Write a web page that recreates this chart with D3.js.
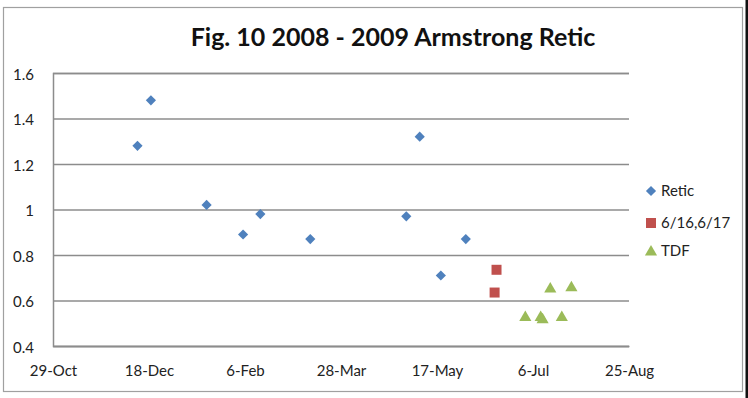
<!DOCTYPE html>
<html><head><meta charset="utf-8">
<script src="https://cdn.jsdelivr.net/npm/d3@7"></script>
<style>
html,body{margin:0;padding:0;background:#fff;}
svg{display:block;font-family:Lato,"Open Sans",sans-serif;}
</style></head>
<body><svg id="c" width="748" height="398"></svg>
<script>
const titleText = "Fig. 10 2008 - 2009 Armstrong Retic";
const reticDates = ["2008-12-12","2008-12-19","2009-01-17","2009-02-05","2009-02-14","2009-03-12","2009-05-01","2009-05-08","2009-05-19","2009-06-01"];
const reticValues = [1.28,1.48,1.02,0.89,0.98,0.87,0.97,1.32,0.71,0.87];
const redDates = ["2009-06-16","2009-06-17"];
const redValues = [0.635,0.735];
const tdfDates = ["2009-07-02","2009-07-10","2009-07-11","2009-07-15","2009-07-21","2009-07-26"];
const tdfValues = [0.53,0.53,0.52,0.655,0.53,0.66];
const xTickDates = ["2008-10-29","2008-12-18","2009-02-06","2009-03-28","2009-05-17","2009-07-06","2009-08-25"];
const yTicks = [0.4,0.6,0.8,1.0,1.2,1.4,1.6];
const seriesNames = ["Retic","6/16,6/17","TDF"];
const seriesColors = ["#4F81BD","#C0504D","#9BBB59"];

const parse = d3.utcParse("%Y-%m-%d");
const fmt = d3.utcFormat("%-d-%b");
const svg = d3.select("#c");

// chart frame
svg.append("rect").attr("x",3.5).attr("y",7.5).attr("width",739).attr("height",384)
  .attr("fill","#fff").attr("stroke","#a0a0a0").attr("stroke-width",1.2);
svg.append("rect").attr("x",745.5).attr("y",0).attr("width",2.5).attr("height",398).attr("fill","#111");

const L=53,R=629,T=73,B=346;
const x = d3.scaleUtc().domain([parse(xTickDates[0]), parse(xTickDates[xTickDates.length-1])]).range([L,R]);
const y = d3.scaleLinear().domain([0.4,1.6]).range([B,T]);

// gridlines
const yAxis = d3.axisLeft(y).tickValues(yTicks).tickSize(-(R-L)).tickPadding(19)
  .tickFormat(d => d3.format("")(+d.toFixed(1)));
const gy = svg.append("g").attr("transform",`translate(${L},0)`).call(yAxis);
gy.select(".domain").attr("stroke","#8c8c8c").attr("stroke-width",1.5);
gy.selectAll(".tick line").attr("stroke","#8c8c8c").attr("stroke-width",1.5);
gy.selectAll(".tick text").attr("font-size",15).attr("fill","#222").attr("font-family","Lato, sans-serif").attr("dy","0.4em");

const xAxis = d3.axisBottom(x).tickValues(xTickDates.map(parse)).tickFormat(fmt).tickSize(0).tickPadding(19);
const gx = svg.append("g").attr("transform",`translate(0,${B})`).call(xAxis);
gx.select(".domain").attr("stroke","#8c8c8c").attr("stroke-width",1.5);
gx.selectAll(".tick text").attr("font-size",15).attr("fill","#222").attr("font-family","Lato, sans-serif");

// title
svg.append("text").attr("x",393).attr("y",46).attr("text-anchor","middle")
  .attr("font-size",25).attr("font-weight","bold").attr("fill","#111").text(titleText);

const symbols = [d3.symbol().type(d3.symbolDiamond2).size(66),
                 d3.symbol().type(d3.symbolSquare).size(100),
                 d3.symbol().type(d3.symbolTriangle).size(64)];
function plot(dates, vals, i, dy){
  svg.append("g").selectAll("path").data(dates.map((d,k)=>({d:parse(d),v:vals[k]}))).join("path")
    .attr("d",symbols[i]).attr("fill",seriesColors[i])
    .attr("transform",p=>`translate(${x(p.d)},${y(p.v)+(dy||0)})`);
}
plot(reticDates,reticValues,0);
plot(redDates,redValues,1);
plot(tdfDates,tdfValues,2,1);

// legend
const legY = [191,223,251];
seriesNames.forEach((n,i)=>{
  svg.append("path").attr("d",symbols[i]).attr("fill",seriesColors[i])
    .attr("transform",`translate(651,${legY[i]+(i==2?1:0)})`);
  svg.append("text").attr("x",661).attr("y",legY[i]).attr("dy","0.36em")
    .attr("font-size",15).attr("fill","#222").text(n);
});
</script></body></html>
